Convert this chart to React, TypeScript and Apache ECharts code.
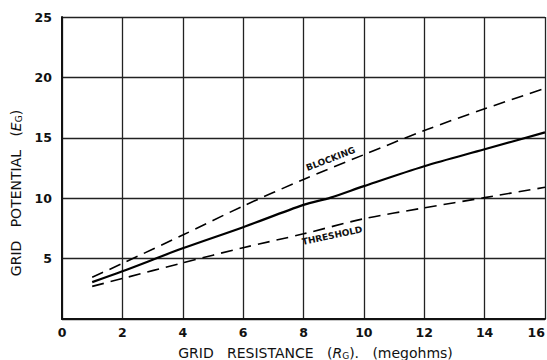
import React, { useEffect, useRef } from "react";
import * as echarts from "echarts";

const xTicks = [0, 2, 4, 6, 8, 10, 12, 14, 16];
const yTicks = [0, 5, 10, 15, 20, 25];

const gridRes = [1, 2, 4, 6, 8, 8.9, 10, 12, 14, 16];
const operating = [3.05, 3.95, 5.85, 7.6, 9.45, 10.05, 11.0, 12.65, 14.05, 15.45];

const blockX = [1, 2, 4, 6, 8, 10, 12, 14, 16];
const blocking = [3.45, 4.6, 6.95, 9.35, 11.55, 13.6, 15.6, 17.4, 19.1];

const threshX = [1, 2, 4, 6, 8, 10, 12, 14, 16];
const threshold = [2.7, 3.35, 4.65, 5.9, 7.05, 8.3, 9.2, 10.05, 10.9];

const labels = [
  { text: "BLOCKING", at: [8.9, 13.25], rot: 21 },
  { text: "THRESHOLD", at: [8.95, 6.9], rot: 12 },
];

const FONT = "DejaVu Sans";

export default function App() {
  const ref = useRef<HTMLDivElement>(null);
  useEffect(() => {
    if (!ref.current) return;
    const chart = echarts.init(ref.current, null, { renderer: "svg" });
    const pair = (xs: number[], ys: number[]) => xs.map((x, i) => [x, ys[i]]);
    const richName = {
      i: { fontFamily: FONT, fontSize: 14, fontStyle: "italic", color: "#111" },
      sub: { fontFamily: FONT, fontSize: 9, color: "#111", verticalAlign: "bottom", padding: [6, 0, 0, 0] },
    };
    chart.setOption({
      animation: false,
      backgroundColor: "#ffffff",
      grid: {
        left: 62,
        right: 2,
        top: 17,
        bottom: 41,
        containLabel: false,
        outerBoundsMode: "none",
      },
      xAxis: {
        type: "value",
        min: xTicks[0],
        max: xTicks[xTicks.length - 1],
        interval: 2,
        name: "GRID   RESISTANCE   ({i|R}{sub|G}).   (megohms)",
        nameLocation: "middle",
        nameGap: 26,
        nameTextStyle: {
          fontFamily: FONT,
          fontSize: 14,
          color: "#111",
          padding: [0, 0, 0, 24],
          rich: richName,
        },
        axisLine: { show: true, lineStyle: { color: "#111", width: 2 } },
        axisTick: { show: false },
        axisLabel: {
          fontFamily: FONT,
          fontSize: 12.5,
          fontWeight: "bold",
          color: "#111",
          margin: 7,
          alignMaxLabel: "right",
        },
        splitLine: { show: true, lineStyle: { color: "#222", width: 1.3 } },
      },
      yAxis: {
        type: "value",
        min: yTicks[0],
        max: yTicks[yTicks.length - 1],
        interval: 5,
        name: "GRID   POTENTIAL   ({i|E}{sub|G})",
        nameLocation: "middle",
        nameGap: 34,
        nameTextStyle: {
          fontFamily: FONT,
          fontSize: 14,
          color: "#111",
          padding: [0, 50, 0, 0],
          rich: richName,
        },
        axisLine: { show: true, lineStyle: { color: "#111", width: 2 } },
        axisTick: { show: false },
        axisLabel: {
          fontFamily: FONT,
          fontSize: 12.5,
          fontWeight: "bold",
          color: "#111",
          margin: 10,
          formatter: (v: number) => (v === 0 ? "" : String(v)),
        },
        splitLine: { show: true, lineStyle: { color: "#222", width: 1.3 } },
      },
      series: [
        {
          type: "line",
          data: pair(gridRes, operating),
          smooth: 0.3,
          symbol: "none",
          lineStyle: { color: "#000", width: 2.2 },
        },
        {
          type: "line",
          data: pair(blockX, blocking),
          smooth: 0.3,
          symbol: "none",
          lineStyle: { color: "#000", width: 1.6, type: [12, 7] },
        },
        {
          type: "line",
          data: pair(threshX, threshold),
          smooth: 0.3,
          symbol: "none",
          lineStyle: { color: "#000", width: 1.6, type: [12, 7] },
        },
      ],
    });
    const graphics = labels.map((l) => {
      const p = chart.convertToPixel({ gridIndex: 0 }, l.at) as number[];
      return {
        type: "text",
        x: p[0],
        y: p[1],
        rotation: (l.rot * Math.PI) / 180,
        style: {
          text: l.text,
          fontFamily: FONT,
          fontSize: 9,
          fontWeight: "bold",
          fill: "#111",
          align: "center",
          verticalAlign: "middle",
        },
      };
    });
    chart.setOption({ graphic: graphics });
    return () => chart.dispose();
  }, []);
  return <div ref={ref} style={{ width: 547, height: 360, position: "absolute", left: 0, top: 0 }} />;
}
